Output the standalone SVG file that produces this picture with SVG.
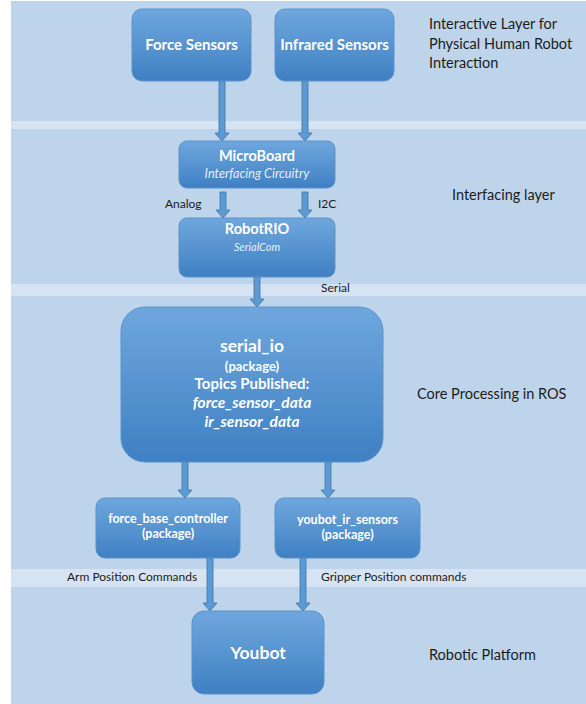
<svg xmlns="http://www.w3.org/2000/svg" width="586" height="704" viewBox="0 0 586 704">
  <defs>
    <linearGradient id="boxg" x1="0" y1="0" x2="0" y2="1">
      <stop offset="0" stop-color="#6fa7dd"/>
      <stop offset="1" stop-color="#3f80c3"/>
    </linearGradient>
    <style>
      .band { fill: #bed4eb; }
      .strip { fill: #d5e3f2; }
      .box { fill: url(#boxg); stroke: #5b93cc; stroke-width: 1; }
      .arrow { fill: #5b9bd5; stroke: #41719c; stroke-width: 0.8; }
      .t { font-family: Lato, "Liberation Sans", sans-serif; fill: #ffffff; text-anchor: middle; font-weight: bold; }
      .ti { font-family: Lato, "Liberation Sans", sans-serif; fill: #e3eefa; text-anchor: middle; font-style: italic; }
      .lbl { font-family: Lato, "Liberation Sans", sans-serif; fill: #1c1c1c; font-size: 12px; }
      .layer { font-family: Lato, "Liberation Sans", sans-serif; fill: #1c1c1c; font-size: 14.5px; }
    </style>
  </defs>

  <rect x="0" y="0" width="586" height="704" fill="#ffffff"/>
  <g id="layers">
    <rect class="band" x="11" y="1" width="575" height="120"/>
    <rect class="strip" x="11" y="121" width="575" height="8"/>
    <rect class="band" x="11" y="129" width="575" height="155"/>
    <rect class="strip" x="11" y="284" width="575" height="12"/>
    <rect class="band" x="11" y="296" width="575" height="273"/>
    <rect class="strip" x="11" y="569" width="575" height="18"/>
    <rect class="band" x="11" y="587" width="575" height="117"/>
    <text class="layer" x="429" y="29">Interactive Layer for</text>
    <text class="layer" x="429" y="49">Physical Human Robot</text>
    <text class="layer" x="429" y="68">Interaction</text>
    <text class="layer" x="452" y="200">Interfacing layer</text>
    <text class="layer" x="417" y="399">Core Processing in ROS</text>
    <text class="layer" x="429" y="660">Robotic Platform</text>
  </g>

  <g id="connectors">
    <path class="arrow" d="M219,81 L225,81 L225,133 L229,133 L222,141 L215,133 L219,133 Z"/>
    <path class="arrow" d="M302,81 L308,81 L308,133 L312,133 L305,141 L298,133 L302,133 Z"/>
    <path class="arrow" d="M220,192 L226,192 L226,210 L230,210 L223,218 L216,210 L220,210 Z"/>
    <path class="arrow" d="M302,192 L308,192 L308,210 L312,210 L305,218 L298,210 L302,210 Z"/>
    <path class="arrow" d="M254,277 L260,277 L260,299 L264,299 L257,307 L250,299 L254,299 Z"/>
    <path class="arrow" d="M182,462 L188,462 L188,490 L192,490 L185,498 L178,490 L182,490 Z"/>
    <path class="arrow" d="M325,462 L331,462 L331,490 L335,490 L328,498 L321,490 L325,490 Z"/>
    <path class="arrow" d="M207,558 L213,558 L213,603 L217,603 L210,611 L203,603 L207,603 Z"/>
    <path class="arrow" d="M300,558 L306,558 L306,603 L310,603 L303,611 L296,603 L300,603 Z"/>
    <text class="lbl" x="165" y="208">Analog</text>
    <text class="lbl" x="318" y="208">I2C</text>
    <text class="lbl" x="321" y="292">Serial</text>
    <text class="lbl" x="67" y="581" font-size="12.5">Arm Position Commands</text>
    <text class="lbl" x="321" y="581" font-size="12.5">Gripper Position commands</text>
  </g>

  <g id="force-sensors">
    <rect class="box" x="132" y="9" width="119" height="72" rx="10"/>
    <text class="t" x="191.5" y="50" font-size="15">Force Sensors</text>
  </g>
  <g id="infrared-sensors">
    <rect class="box" x="275" y="9" width="119" height="72" rx="10"/>
    <text class="t" x="334.5" y="50" font-size="15">Infrared Sensors</text>
  </g>
  <g id="microboard">
    <rect class="box" x="179" y="141" width="156" height="47" rx="8"/>
    <text class="t" x="257" y="161" font-size="14.5">MicroBoard</text>
    <text class="ti" x="257" y="178" font-size="12.7">Interfacing Circuitry</text>
  </g>
  <g id="robotrio">
    <rect class="box" x="179" y="218" width="156" height="59" rx="8"/>
    <text class="t" x="257" y="234" font-size="14.5">RobotRIO</text>
    <text class="ti" x="257" y="251" font-size="11">SerialCom</text>
  </g>
  <g id="serial-io">
    <rect class="box" x="121" y="307" width="262" height="155" rx="24"/>
    <text class="t" x="252" y="352" font-size="17.5">serial_io</text>
    <text class="t" x="252" y="371" font-size="13">(package)</text>
    <text class="t" x="252" y="389" font-size="15">Topics Published:</text>
    <text class="t" x="252" y="408" font-size="15.5" font-style="italic">force_sensor_data</text>
    <text class="t" x="252" y="427" font-size="15.5" font-style="italic">ir_sensor_data</text>
  </g>
  <g id="force-base-controller">
    <rect class="box" x="96" y="498" width="144" height="60" rx="9"/>
    <text class="t" x="168" y="523" font-size="12.5">force_base_controller</text>
    <text class="t" x="168" y="538" font-size="12.5">(package)</text>
  </g>
  <g id="youbot-ir-sensors">
    <rect class="box" x="275" y="498" width="145" height="60" rx="9"/>
    <text class="t" x="347.5" y="524" font-size="12.5">youbot_ir_sensors</text>
    <text class="t" x="347.5" y="539" font-size="12.5">(package)</text>
  </g>
  <g id="youbot">
    <rect class="box" x="192" y="611" width="132" height="83" rx="12"/>
    <text class="t" x="258" y="659" font-size="17.5">Youbot</text>
  </g>
</svg>
